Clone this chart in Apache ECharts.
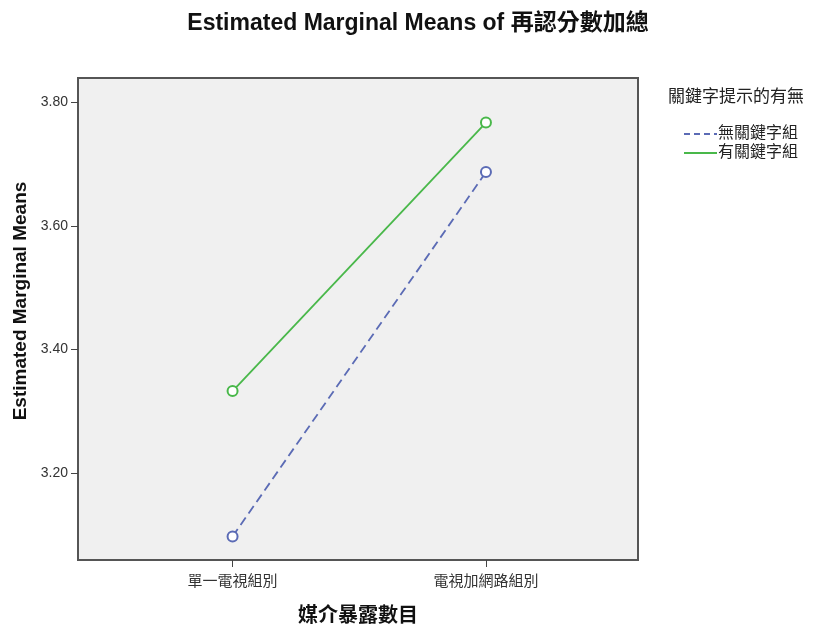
<!DOCTYPE html>
<html>
<head>
<meta charset="utf-8">
<script src="https://cdn.jsdelivr.net/npm/echarts@6/dist/echarts.min.js"></script>
<style>html,body{margin:0;padding:0;background:#fff}#c{width:817px;height:628px}</style>
</head>
<body>
<div id="c"></div>
<script>
var categories = ['單一電視組別', '電視加網路組別'];
var seriesNames = ['無關鍵字組', '有關鍵字組'];
var noKeyword = [3.098, 3.687];
var withKeyword = [3.333, 3.767];
var yTicks = [3.20, 3.40, 3.60, 3.80];

var FONT = '"Liberation Sans", Arial, "Noto Sans CJK TC", sans-serif';
var chart = echarts.init(document.getElementById('c'));

function pts(vals) { return vals.map(function (v, i) { return [i, v]; }); }

chart.setOption({
  backgroundColor: '#ffffff',
  animation: false,
  title: [{
    text: 'Estimated Marginal Means of 再認分數加總',
    left: 413, top: 7, textAlign: 'center',
    textStyle: { fontFamily: FONT, fontSize: 23, fontWeight: 'bold', color: '#111' }
  }, {
    text: '關鍵字提示的有無',
    left: 663, top: 84,
    textStyle: { fontFamily: FONT, fontSize: 17, fontWeight: 'normal', color: '#222' }
  }],
  legend: {
    orient: 'vertical',
    left: 678, top: 121,
    itemWidth: 33, itemHeight: 10, itemGap: 3,
    textStyle: { fontFamily: FONT, fontSize: 16, color: '#222', padding: [0, 0, 0, -4] },
    itemStyle: { opacity: 0 },
    data: [
      { name: seriesNames[0], lineStyle: { type: [6, 4] } },
      { name: seriesNames[1] }
    ]
  },
  grid: { left: 78, right: 179, top: 78, bottom: 68, outerBoundsMode: 'none', containLabel: false, show: true, backgroundColor: '#f0f0f0', borderColor: '#555', borderWidth: 2 },
  xAxis: {
    type: 'value',
    min: -0.61, max: 1.6,
    name: '媒介暴露數目', nameLocation: 'middle', nameGap: 46,
    nameTextStyle: { fontFamily: FONT, fontSize: 20, fontWeight: 'bold', color: '#111' },
    axisLine: { show: true, onZero: false, lineStyle: { color: '#555', width: 2 } },
    axisTick: { show: true, customValues: [0, 1], length: 7, lineStyle: { color: '#444', width: 1 } },
    axisLabel: {
      customValues: [0, 1], margin: 14,
      fontFamily: FONT, fontSize: 15, color: '#333',
      formatter: function (v) { return categories[Math.round(v)] || ''; }
    },
    splitLine: { show: false }
  },
  yAxis: {
    type: 'value',
    min: 3.06, max: 3.839,
    name: 'Estimated Marginal Means', nameLocation: 'middle', nameGap: 46, nameRotate: 90,
    nameTextStyle: { fontFamily: FONT, fontSize: 19, fontWeight: 'bold', color: '#111', padding: [0, 0, 0, 36] },
    axisLine: { show: true, onZero: false, lineStyle: { color: '#555', width: 2 } },
    axisTick: { show: true, customValues: yTicks, length: 7, lineStyle: { color: '#444', width: 1 } },
    axisLabel: {
      customValues: yTicks, margin: 10,
      fontFamily: FONT, fontSize: 14, color: '#333',
      formatter: function (v) { return v.toFixed(2); }
    },
    splitLine: { show: false }
  },
  series: [{
    name: seriesNames[0],
    type: 'line',
    data: pts(noKeyword),
    symbol: 'emptyCircle', symbolSize: 10,
    color: '#5b6bb5',
    lineStyle: { color: '#5b6bb5', width: 1.8, type: [9, 5] },
    itemStyle: { color: '#5b6bb5', borderColor: '#5b6bb5', borderWidth: 1.3 }
  }, {
    name: seriesNames[1],
    type: 'line',
    data: pts(withKeyword),
    symbol: 'emptyCircle', symbolSize: 10,
    color: '#49b84a',
    lineStyle: { color: '#49b84a', width: 1.8, type: 'solid' },
    itemStyle: { color: '#49b84a', borderColor: '#49b84a', borderWidth: 1.3 }
  }]
});
</script>
</body>
</html>
